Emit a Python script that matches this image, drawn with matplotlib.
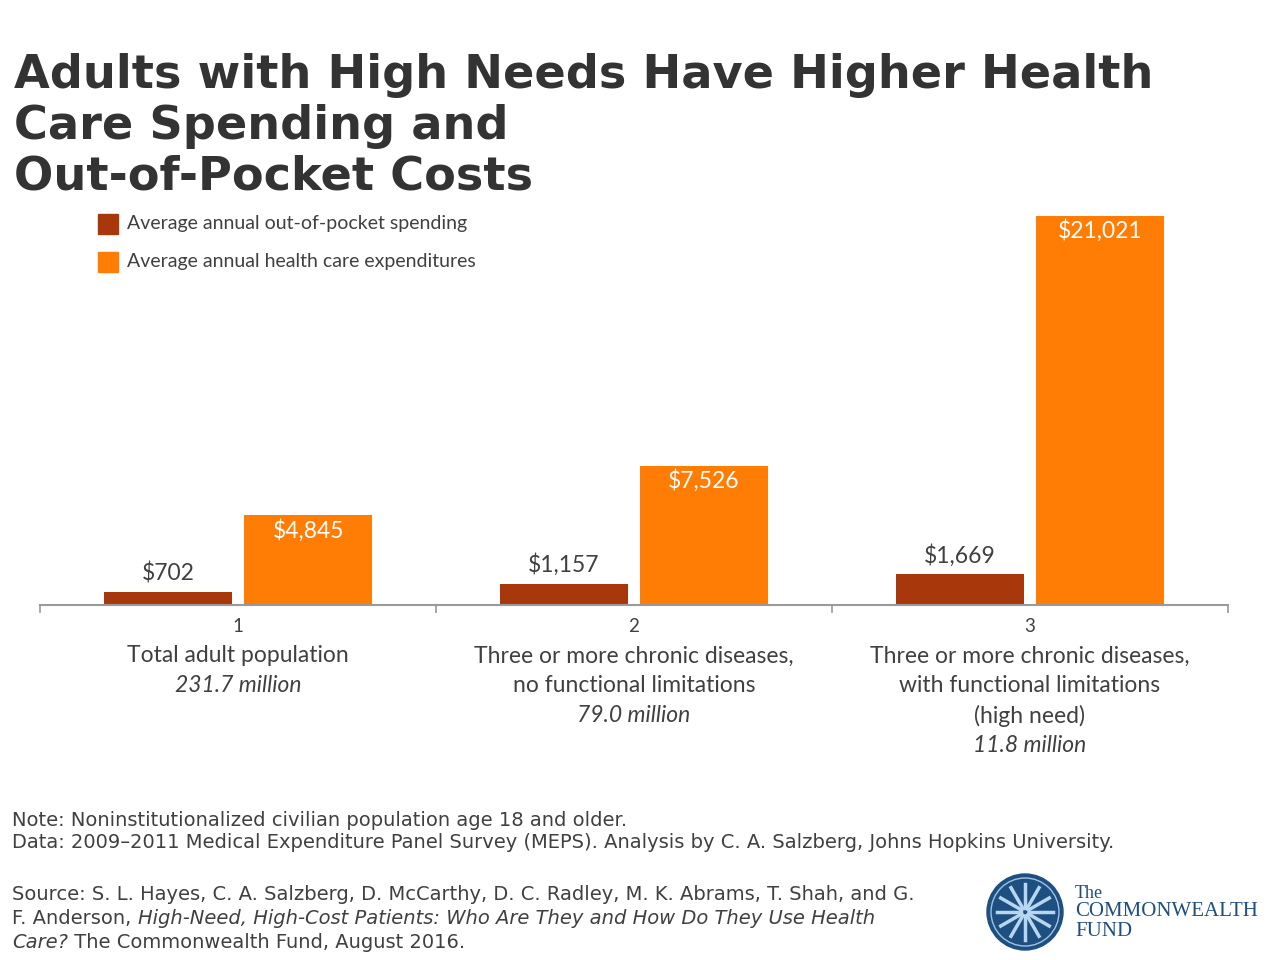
import math
import matplotlib
matplotlib.use("Agg")
import matplotlib.pyplot as plt
from matplotlib.patches import Circle, Rectangle

categories = ["1", "2", "3"]
cat_lines = [
    ["Total adult population"],
    ["Three or more chronic diseases,", "no functional limitations"],
    ["Three or more chronic diseases,", "with functional limitations", "(high need)"],
]
populations = ["231.7 million", "79.0 million", "11.8 million"]
out_of_pocket = [702, 1157, 1669]
expenditures = [4845, 7526, 21021]
series_names = ["Average annual out-of-pocket spending",
                "Average annual health care expenditures"]

DARK = "#A8380C"
ORANGE = "#FF7C05"
TXT = "#404040"

fig = plt.figure(figsize=(12.8, 9.6), dpi=100)
fig.patch.set_facecolor("white")

fig.text(14 / 1280, 1 - 53 / 960,
         "Adults with High Needs Have Higher Health\nCare Spending and\nOut-of-Pocket Costs",
         family="DejaVu Sans", weight="bold", size=33.3, color="#333333",
         va="top", ha="left", linespacing=1.16)

ax = fig.add_axes([40 / 1280, 1 - 605 / 960, 1188 / 1280, 405 / 960])
x = list(range(len(categories)))
w = 0.323
off = 0.177
ax.bar([i - off for i in x], out_of_pocket, w, color=DARK, label=series_names[0])
ax.bar([i + off for i in x], expenditures, w, color=ORANGE, label=series_names[1])
ax.set_xlim(-0.5, 2.5)
ax.set_ylim(0, 21021 * 405 / 389)

for s in ["top", "right", "left"]:
    ax.spines[s].set_visible(False)
ax.spines["bottom"].set_color("#9a9a9a")
ax.spines["bottom"].set_linewidth(1.5)
ax.set_yticks([])
ax.set_xticks([-0.5, 0.5, 1.5, 2.5])
ax.set_xticklabels([])
ax.tick_params(axis="x", length=6, width=1.2, color="#9a9a9a", direction="out")

for i in x:
    ax.annotate(f"${out_of_pocket[i]:,}", (i - off, out_of_pocket[i]),
                xytext=(0, 19), textcoords="offset pixels", ha="center", va="center",
                family="Lato", size=16.5, color=TXT)
    ax.annotate(f"${expenditures[i]:,}", (i + off, expenditures[i]),
                xytext=(0, -15), textcoords="offset pixels", ha="center", va="center",
                family="Lato", size=16.5, color="white")
    ax.annotate(categories[i], (i, 0), xycoords=("data", "axes fraction"),
                xytext=(0, -22), textcoords="offset pixels", ha="center", va="center",
                family="Lato", size=13.5, color=TXT)
    lines = cat_lines[i]
    for j, line in enumerate(lines):
        ax.annotate(line, (i, 0), xycoords=("data", "axes fraction"),
                    xytext=(0, -51 - 30 * j), textcoords="offset pixels",
                    ha="center", va="center", family="Lato", size=16.5, color=TXT)
    ax.annotate(populations[i], (i, 0), xycoords=("data", "axes fraction"),
                xytext=(0, -51 - 30 * len(lines)), textcoords="offset pixels",
                ha="center", va="center", family="Lato", style="italic",
                size=16.5, color=TXT)

# legend
for k, (name, col) in enumerate(zip(series_names, [DARK, ORANGE])):
    yc = 1 - (224 + 38 * k) / 960
    fig.patches.append(Rectangle((98 / 1280, yc - 10 / 960), 20 / 1280, 20 / 960,
                                 transform=fig.transFigure, color=col))
    fig.text(127 / 1280, yc, name, family="Lato", size=14, color=TXT,
             va="center", ha="left")

# footer
renderer = fig.canvas.get_renderer()
footer = [
    (820, [("Note: Noninstitutionalized civilian population age 18 and older.", "normal")]),
    (843, [("Data: 2009\u20132011 Medical Expenditure Panel Survey (MEPS). Analysis by C. A. Salzberg, Johns Hopkins University.", "normal")]),
    (895, [("Source: S. L. Hayes, C. A. Salzberg, D. McCarthy, D. C. Radley, M. K. Abrams, T. Shah, and G.", "normal")]),
    (919, [("F. Anderson, ", "normal"),
           ("High-Need, High-Cost Patients: Who Are They and How Do They Use Health", "italic")]),
    (943, [("Care?", "italic"), (" The Commonwealth Fund, August 2016.", "normal")]),
]
for ypix, parts in footer:
    xpix = 12
    for txt, sty in parts:
        t = fig.text(xpix / 1280, 1 - ypix / 960, txt, family="DejaVu Sans",
                     size=14, style=sty, color=TXT, va="center", ha="left")
        xpix += t.get_window_extent(renderer).width

# logo
lax = fig.add_axes([985 / 1280, 1 - 952 / 960, 80 / 1280, 80 / 960])
lax.set_xlim(-1, 1)
lax.set_ylim(-1, 1)
lax.set_aspect("equal")
lax.axis("off")
lax.add_patch(Circle((0, 0), 0.95, color="#1d4f80"))
lax.add_patch(Circle((0, 0), 0.85, fill=False, ec="#9ec3e6", lw=1))
for a in range(12):
    t = a * math.pi / 6
    lax.plot([0.1 * math.cos(t), 0.7 * math.cos(t)],
             [0.1 * math.sin(t), 0.7 * math.sin(t)], color="#b9d6f0", lw=2.5)
lax.add_patch(Circle((0, 0), 0.12, color="#1d4f80", ec="#b9d6f0"))
fig.text(1075 / 1280, 1 - 894 / 960, "The", family="Liberation Serif",
         size=13, color="#1d4f80", va="center")
fig.text(1075 / 1280, 1 - 912 / 960, "COMMONWEALTH", family="Liberation Serif",
         size=15, color="#1d4f80", va="center")
fig.text(1075 / 1280, 1 - 931 / 960, "FUND", family="Liberation Serif",
         size=15, color="#1d4f80", va="center")

fig.savefig("out.png", dpi=100)
